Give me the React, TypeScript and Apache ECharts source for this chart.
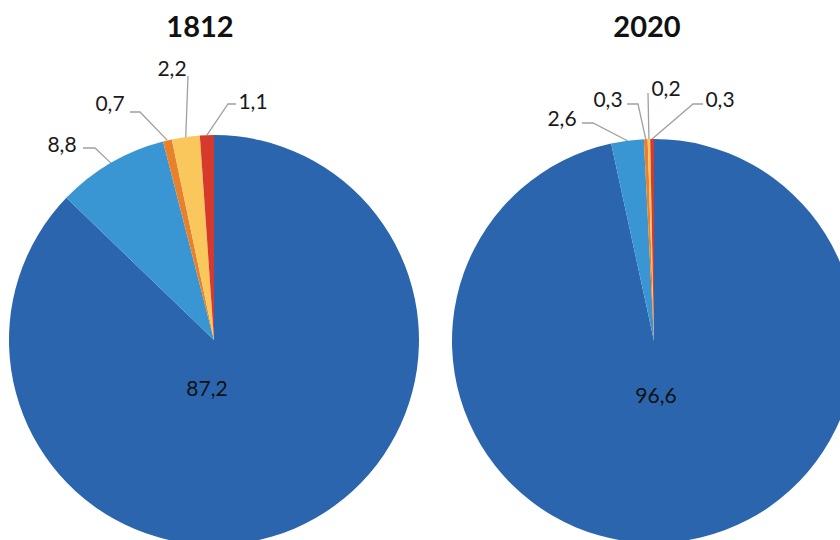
import React, { useEffect, useRef } from "react";
import * as echarts from "echarts";

const years = ["1812", "2020"];
const categories = ["Group A", "Group B", "Group C", "Group D", "Group E"];
const values1812 = [87.2, 8.8, 0.7, 2.2, 1.1];
const values2020 = [96.6, 2.6, 0.3, 0.2, 0.3];

const COLORS = ["#2B65AE", "#3A95D3", "#E8812C", "#F9C75B", "#D63A2C"];

// label layout (text centre, line elbow, line end) for each pie
type LP = { tx: number; ty: number; elbow?: [number, number]; end?: [number, number] };
const LAYOUT_1812: LP[] = [
  { tx: 207, ty: 387 },
  { tx: 62, ty: 143, elbow: [95, 148], end: [83, 148] },
  { tx: 110, ty: 102, elbow: [140, 112], end: [130, 112] },
  { tx: 172, ty: 67, elbow: [188, 76], end: [188, 76] },
  { tx: 253, ty: 100, elbow: [228, 104], end: [236, 104] },
];
const LAYOUT_2020: LP[] = [
  { tx: 656, ty: 394 },
  { tx: 562, ty: 117, elbow: [593, 123], end: [582, 123] },
  { tx: 608, ty: 98, elbow: [638, 104], end: [627, 104] },
  { tx: 666, ty: 87, elbow: [648, 93], end: [648, 93] },
  { tx: 720, ty: 98, elbow: [693, 104], end: [703, 104] },
];

const fmt = (v: number) => v.toFixed(1).replace(".", ",");

function makeSeries(values: number[], center: [number, number], radius: number, layout: LP[]) {
  return {
    type: "pie",
    center,
    radius,
    startAngle: 90,
    clockwise: true,
    avoidLabelOverlap: false,
    minShowLabelAngle: 0,
    silent: true,
    emphasis: { disabled: true },
    itemStyle: { borderWidth: 0 },
    label: {
      show: true,
      position: "outside",
      formatter: (p: any) => fmt(p.value),
      fontFamily: "Lato",
      fontSize: 21,
      color: "#1a1a1a",
    },
    labelLine: {
      show: true,
      length: 10,
      length2: 10,
      lineStyle: { color: "#a0a0a0", width: 1.3 },
    },
    labelLayout: (params: any) => {
      const l = layout[params.dataIndex];
      const res: any = { x: l.tx, y: l.ty, align: "center", verticalAlign: "middle" };
      if (l.end && params.labelLinePoints) {
        const start = params.labelLinePoints[0];
        res.labelLinePoints = [start, l.elbow, l.end];
      }
      return res;
    },
    data: values.map((v, i) => ({
      name: categories[i],
      value: v,
      itemStyle: { color: COLORS[i] },
      ...(i === 0
        ? { label: { position: "inside", color: "#111" }, labelLine: { show: false } }
        : {}),
    })),
  };
}

export default function App() {
  const ref = useRef<HTMLDivElement>(null);
  useEffect(() => {
    if (!ref.current) return;
    const chart = echarts.init(ref.current, null, { renderer: "svg" });
    const titleStyle = { fontFamily: "Lato", fontWeight: "bold", fontSize: 29, color: "#111" };
    chart.setOption({
      animation: false,
      backgroundColor: "#ffffff",
      title: [
        { text: years[0], left: 195, top: 6, textAlign: "center", textStyle: titleStyle },
        { text: years[1], left: 642, top: 6, textAlign: "center", textStyle: titleStyle },
      ],
      series: [
        makeSeries(values1812, [214, 340], 205, LAYOUT_1812),
        makeSeries(values2020, [654, 341], 202, LAYOUT_2020),
      ],
    });
    return () => chart.dispose();
  }, []);
  return (
    <div
      ref={ref}
      style={{ position: "fixed", left: 0, top: 0, width: 840, height: 540 }}
    />
  );
}
